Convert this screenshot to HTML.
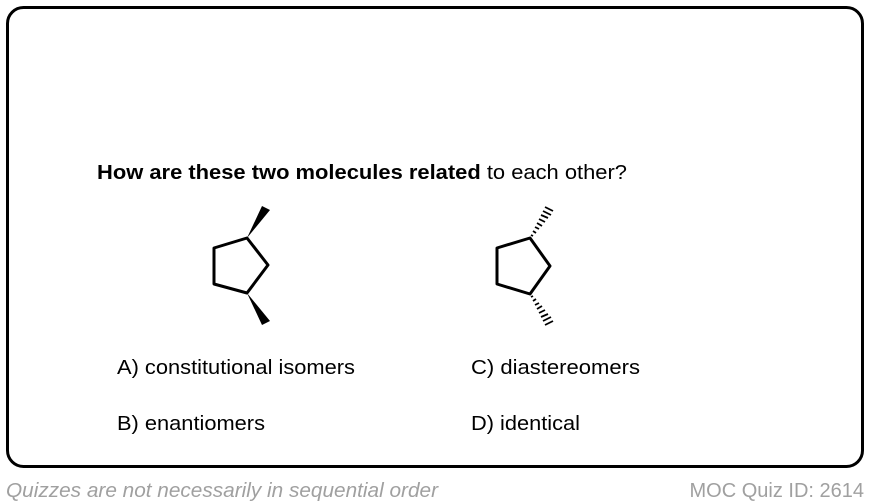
<!DOCTYPE html>
<html><head><meta charset="utf-8"><style>html,body{margin:0;padding:0;background:#fff}svg{display:block}</style></head><body>
<svg width="872" height="504" viewBox="0 0 872 504" xmlns="http://www.w3.org/2000/svg" font-family="Liberation Sans, Arial, sans-serif">
<rect x="7.5" y="7.5" width="855" height="459" rx="16" ry="16" fill="#fff" stroke="#000" stroke-width="3"/>
<text x="97" y="179" font-size="20" fill="#000" textLength="530" lengthAdjust="spacingAndGlyphs"><tspan font-weight="bold">How are these two molecules related</tspan> to each other?</text>
<g stroke="#000" stroke-width="3" fill="none" stroke-linejoin="round">
<polygon points="247,238 214,248 214,284 247,293 268,265"/>
<polygon points="530,238 497,248 497,284 530,294 550,266"/>
</g>
<polygon points="247,238 262,206 270,210" fill="#000"/>
<polygon points="247,293 262,325 270,321" fill="#000"/>
<g stroke="#000" stroke-width="1.8">
<line x1="531" y1="235" x2="533" y2="236"/>
<line x1="533" y1="231" x2="536" y2="233"/>
<line x1="535" y1="227" x2="539" y2="229"/>
<line x1="537" y1="223" x2="542" y2="226"/>
<line x1="539" y1="219" x2="545" y2="222"/>
<line x1="541" y1="215" x2="548" y2="218"/>
<line x1="543" y1="211" x2="551" y2="215"/>
<line x1="545" y1="207" x2="553" y2="211"/>
<line x1="531" y1="297" x2="533" y2="296"/>
<line x1="533" y1="301" x2="536" y2="299"/>
<line x1="535" y1="305" x2="539" y2="303"/>
<line x1="537" y1="309" x2="542" y2="306"/>
<line x1="539" y1="313" x2="545" y2="310"/>
<line x1="541" y1="317" x2="548" y2="314"/>
<line x1="543" y1="321" x2="551" y2="317"/>
<line x1="545" y1="325" x2="553" y2="321"/>
</g>
<g font-size="20" fill="#000">
<text x="117" y="374" textLength="238" lengthAdjust="spacingAndGlyphs">A) constitutional isomers</text>
<text x="471" y="374" textLength="169" lengthAdjust="spacingAndGlyphs">C) diastereomers</text>
<text x="117" y="430" textLength="148" lengthAdjust="spacingAndGlyphs">B) enantiomers</text>
<text x="471" y="430" textLength="109" lengthAdjust="spacingAndGlyphs">D) identical</text>
</g>
<text x="6" y="497" font-size="20" font-style="italic" fill="#a0a0a0" textLength="432" lengthAdjust="spacingAndGlyphs">Quizzes are not necessarily in sequential order</text>
<text x="864" y="497" font-size="20" fill="#a0a0a0" text-anchor="end">MOC Quiz ID: 2614</text>
</svg>
</body></html>
